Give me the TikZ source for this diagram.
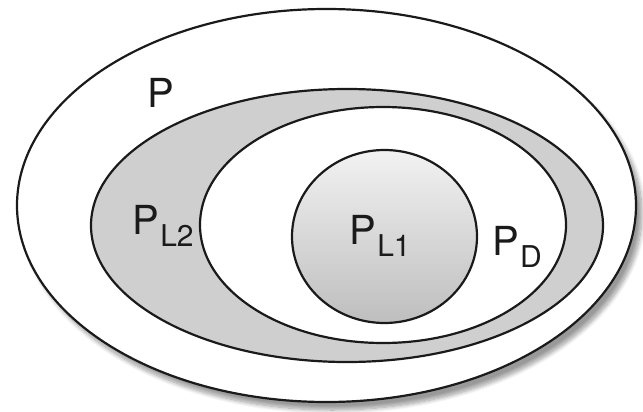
\documentclass[tikz,border=0pt]{standalone}
\usepackage{fontspec}
\setmainfont{TeX Gyre Heros}
\usetikzlibrary{shapes.geometric,shadows.blur}
\definecolor{Ink}{HTML}{1A1A1A}
\definecolor{Band}{HTML}{CFCFCF}
\definecolor{CoreTop}{HTML}{F2F2F2}
\definecolor{CoreBot}{HTML}{BEBEBE}
\newcommand{\lblfont}{\fontsize{20}{24}\selectfont}
\newcommand{\subfont}{\fontsize{15}{16}\selectfont}
\newcommand{\setlbl}[1]{P\kern0.6pt\raisebox{-6pt}{\subfont #1}}
\tikzset{
  region/.style={ellipse, draw=Ink, line width=1.1pt, inner sep=0pt},
  setname/.style={font=\lblfont, text=Ink, inner sep=0pt}
}

\begin{document}
\begin{tikzpicture}[x=0.5pt,y=-0.5pt]
  \useasboundingbox (0,0) rectangle (643,412);
  % nested sets, outermost first
  \node[region, fill=white, minimum width=309.5pt, minimum height=196.5pt,
    blur shadow={shadow xshift=3pt, shadow yshift=-4pt, shadow blur steps=10}]
    (all) at (326.5,205.5) {};
  \node[region, fill=Band, minimum width=256pt, minimum height=136.5pt]
    (l2) at (347,225.5) {};
  \node[region, fill=white, minimum width=183pt, minimum height=118pt]
    (dec) at (383,225) {};
  \node[region, top color=CoreTop, bottom color=CoreBot,
    minimum width=92.5pt, minimum height=86.5pt] (l1) at (384.5,236.5) {};
  % labels
  \node[setname] (allname) at (161,93) {P};
  \node[setname] (l2name) at (163,226) {\setlbl{L2}};
  \node[setname] (l1name) at (380,236) {\setlbl{L1}};
  \node[setname] (decname) at (517,247) {\setlbl{D}};
\end{tikzpicture}
\end{document}
